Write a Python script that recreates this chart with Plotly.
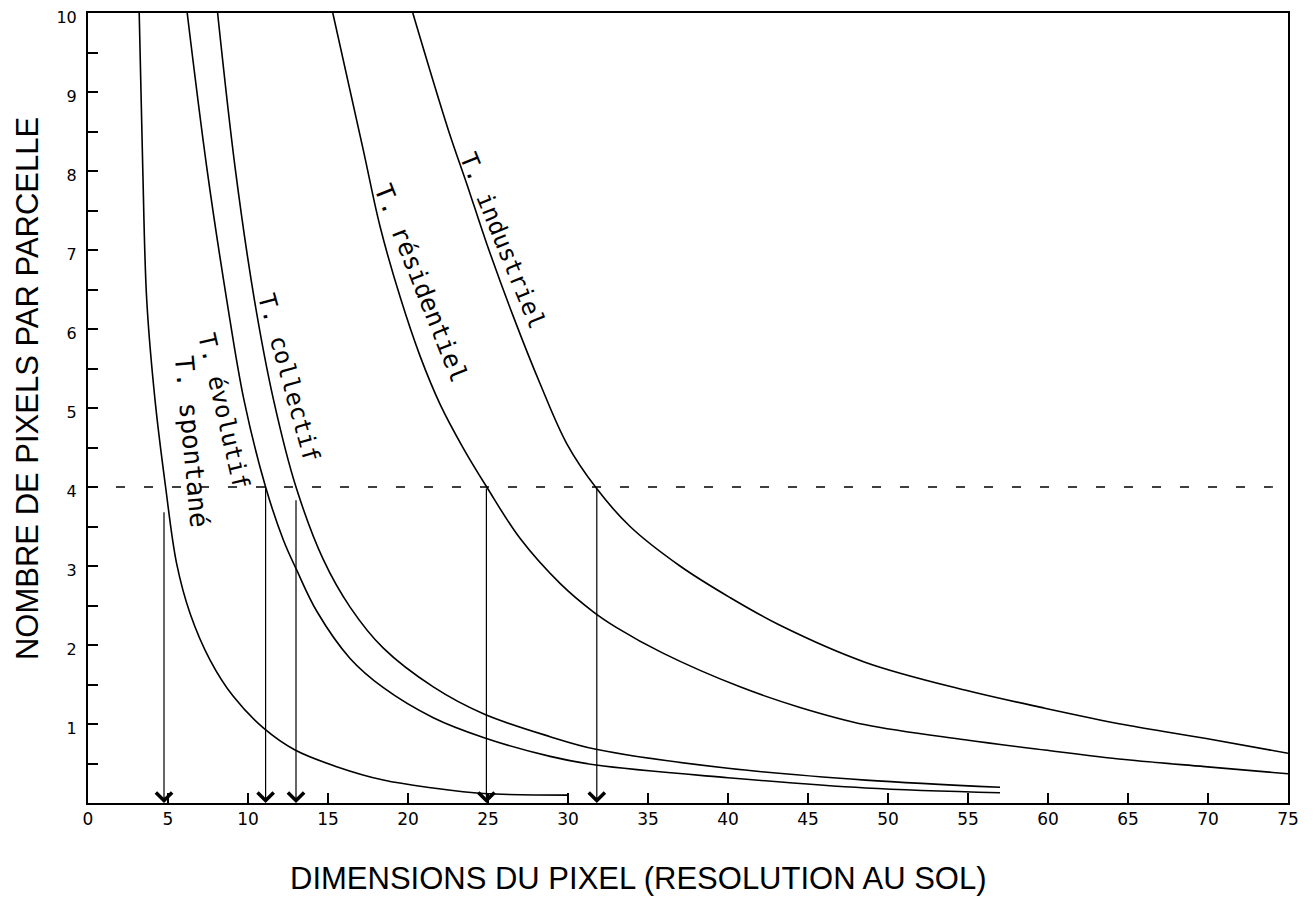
import plotly.graph_objects as go

# ---------------- data ----------------
spontane_x = [3.2, 3.42, 3.67, 4.19, 4.85, 5.54, 6.38, 7.63, 9.08, 10.96, 12.94, 15.54, 18.46, 21.58, 24.71, 30.0]
spontane_y = [10.0, 8.05, 6.37, 5.10, 4.00, 3.03, 2.40, 1.81, 1.35, 0.95, 0.67, 0.46, 0.29, 0.19, 0.12, 0.10]

evolutif_x = [6.2, 7.42, 8.67, 9.75, 11.1, 12.21, 13.04, 14.29, 16.38, 18.46, 21.58, 24.71, 28.88, 31.75, 40.0, 48.6, 57.0]
evolutif_y = [10.0, 8.05, 6.37, 5.10, 4.00, 3.33, 2.95, 2.43, 1.83, 1.46, 1.08, 0.83, 0.59, 0.48, 0.32, 0.19, 0.13]

collectif_x = [8.1, 9.19, 10.4, 11.6, 13.0, 14.71, 16.38, 18.46, 21.58, 24.71, 28.88, 31.75, 40.0, 48.6, 57.0]
collectif_y = [10.0, 8.05, 6.37, 5.10, 4.00, 3.08, 2.48, 1.96, 1.47, 1.13, 0.84, 0.68, 0.44, 0.29, 0.20]

residentiel_x = [15.3, 17.2, 18.25, 19.5, 20.75, 22.0, 23.46, 24.92, 27.0, 29.5, 31.58, 33.04, 35.9, 40.75, 44.5, 48.6, 54.8, 59.8, 64.8, 69.8, 75.0]
residentiel_y = [10.0, 8.27, 7.30, 6.41, 5.66, 5.05, 4.49, 4.00, 3.35, 2.78, 2.42, 2.22, 1.90, 1.47, 1.21, 0.99, 0.80, 0.67, 0.55, 0.46, 0.37]

industriel_x = [20.3, 22.52, 23.67, 24.92, 26.58, 28.25, 29.92, 31.79, 33.88, 37.0, 40.13, 43.25, 48.6, 54.8, 59.8, 64.8, 69.8, 75.0]
industriel_y = [10.0, 8.52, 7.84, 7.08, 6.16, 5.31, 4.55, 3.98, 3.50, 3.00, 2.60, 2.25, 1.78, 1.43, 1.20, 0.99, 0.82, 0.63]

curve_names = ["T. spontané", "T. évolutif", "T. collectif", "T. résidentiel", "T. industriel"]

threshold = 4
drop_x = [4.75, 11.1, 13.0, 24.9, 31.8]
drop_top = [3.7, 4.0, 3.85, 4.0, 4.0]

x_tickvals = [0, 5, 10, 15, 20, 25, 30, 35, 40, 45, 50, 55, 60, 65, 70, 75]
x_ticktext = ["0", "5", "10", "15", "20", "25", "30", "35", "40", "45", "50", "55", "60", "65", "70", "75"]
y_tickvals = [0.5, 1, 1.5, 2, 2.5, 3, 3.5, 4, 4.5, 5, 5.5, 6, 6.5, 7, 7.5, 8, 8.5, 9, 9.5, 10]
y_ticktext = ["", "1", "", "2", "", "3", "", "4", "", "5", "", "6", "", "7", "", "8", "", "9", "", "10"]

x_title = "DIMENSIONS DU PIXEL (RESOLUTION AU SOL)"
y_title = "NOMBRE DE PIXELS PAR PARCELLE"

# ---------------- layout helpers (positions / styles) ----------------
label_pos = [(6.47, 4.58, 84.7, 26), (8.47, 4.96, 77, 24), (12.56, 5.38, 74.4, 24),
             (20.84, 6.58, 68.2, 25), (25.9, 7.11, 67.7, 24)]

fig = go.Figure()
series = [(spontane_x, spontane_y), (evolutif_x, evolutif_y), (collectif_x, collectif_y),
          (residentiel_x, residentiel_y), (industriel_x, industriel_y)]
for (xs, ys), name in zip(series, curve_names):
    fig.add_trace(go.Scatter(x=xs, y=ys, mode="lines", name=name,
                             line=dict(color="black", width=1.6, shape="spline", smoothing=1.0),
                             showlegend=False, hoverinfo="skip"))

fig.add_hline(y=threshold, line=dict(color="black", width=1.3, dash="9px,19px"))

annotations = []
for xd, yt in zip(drop_x, drop_top):
    annotations.append(dict(x=xd, y=0, ax=xd, ay=yt, xref="x", yref="y", axref="x", ayref="y",
                            text="", showarrow=True, arrowhead=4, arrowsize=2.6,
                            arrowwidth=1.2, arrowcolor="black", standoff=0))

for name, (lx, ly, ang, fs) in zip(curve_names, label_pos):
    annotations.append(dict(x=lx, y=ly, xref="x", yref="y", text=name, showarrow=False,
                            textangle=ang, xanchor="center", yanchor="middle",
                            font=dict(family="DejaVu Sans Mono", size=fs, color="black")))

annotations.append(dict(x=0.459, y=-0.095, xref="paper", yref="paper", text=x_title,
                        showarrow=False, xanchor="center", yanchor="middle",
                        font=dict(family="Liberation Sans", size=31, color="black")))
annotations.append(dict(x=-0.051, y=0.525, xref="paper", yref="paper", text=y_title,
                        showarrow=False, textangle=-90, xanchor="center", yanchor="middle",
                        font=dict(family="Liberation Sans", size=31, color="black")))

# the page body adds an 8 px offset, so the figure is 8 px smaller and margins shifted
fig.update_layout(
    width=1307, height=892,
    margin=dict(l=80, r=27, t=5, b=97, autoexpand=False),
    paper_bgcolor="white", plot_bgcolor="white",
    annotations=annotations,
    font=dict(family="Liberation Sans", color="black"),
)
fig.update_xaxes(range=[0, 75], showgrid=False, zeroline=False, showline=True, mirror=True,
                 automargin=False, ticklabeloverflow="allow",
                 linecolor="black", linewidth=2, ticks="inside", ticklen=10, tickwidth=1.5,
                 tickcolor="black", tickvals=x_tickvals, ticktext=x_ticktext,
                 tickfont=dict(family="DejaVu Sans", size=17, color="black"))
fig.update_yaxes(range=[0, 10], showgrid=False, zeroline=False, showline=True, mirror=True,
                 automargin=False, ticklabeloverflow="allow",
                 linecolor="black", linewidth=2, ticks="inside", ticklen=10, tickwidth=1.5,
                 tickcolor="black", tickvals=y_tickvals, ticktext=y_ticktext,
                 ticklabelstandoff=6, ticklabelshift=4,
                 tickfont=dict(family="DejaVu Sans", size=16, color="black"))

fig.write_html("out.html")
